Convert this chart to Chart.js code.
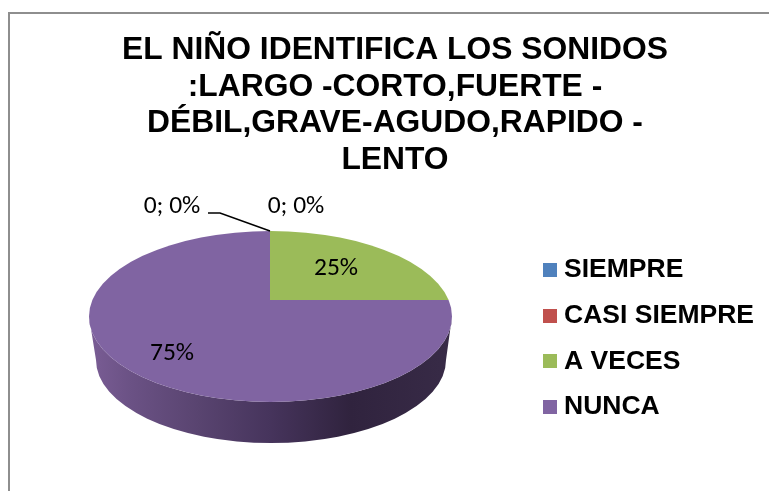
<!DOCTYPE html>
<html>
<head>
<meta charset="utf-8">
<style>
html,body{margin:0;padding:0;background:#fff;overflow:hidden;width:769px;height:491px}
#frame{position:absolute;left:8px;top:12px;width:790px;height:500px;border:2px solid #8e8e8e;box-sizing:border-box;overflow:hidden}
#frame canvas{position:absolute;left:0;top:0}
</style>
<script src="https://cdn.jsdelivr.net/npm/chart.js@4"></script>
</head>
<body>
<div id="frame"><canvas id="c" width="770" height="477"></canvas></div>
<script>
const titleLines = ["EL NIÑO IDENTIFICA LOS SONIDOS", ":LARGO -CORTO,FUERTE -", "DÉBIL,GRAVE-AGUDO,RAPIDO -", "LENTO"];
const categories = ["SIEMPRE", "CASI SIEMPRE", "A VECES", "NUNCA"];
const values = [0, 0, 25, 75];
const colors = ["#4F81BD", "#C0504D", "#9BBB59", "#8064A2"];

// tilted-disc geometry, in canvas pixels
const disc = {cx:260.5, cy:302.5, rx:181.5, ry:85.5, apexX:260, apexY:286};
const wall = {cx:261, cy:346, rx:175, ry:83};
const labelSpots = [
  {x:162, y:193}, {x:286, y:193}, {x:326, y:255}, {x:162, y:340}
];

function ellipsePath(ctx){
  ctx.beginPath();
  ctx.ellipse(disc.cx, disc.cy, disc.rx, disc.ry, 0, 0, Math.PI*2);
}
const pie3d = {
  id:"pie3d",
  afterLayout(chart){
    chart.legend.top += 91;
    chart.legend.bottom += 91;
    chart.legend.left -= 16;
    chart.legend.right -= 16;
  },
  beforeDatasetsDraw(chart){
    const ctx = chart.ctx;
    const arc = chart.getDatasetMeta(0).data[0];
    const g = ctx.createLinearGradient(disc.cx-disc.rx, 0, disc.cx+disc.rx, 0);
    g.addColorStop(0, "#7a5d95");
    g.addColorStop(0.12, "#6a5184");
    g.addColorStop(0.3, "#594470");
    g.addColorStop(0.5, "#46345c");
    g.addColorStop(0.72, "#30233e");
    g.addColorStop(1, "#382b47");
    ctx.save();
    ctx.fillStyle = g;
    ctx.beginPath();
    ctx.ellipse(disc.cx, disc.cy, disc.rx, disc.ry, 0, 0, Math.PI);
    ctx.lineTo(wall.cx-wall.rx, wall.cy);
    ctx.ellipse(wall.cx, wall.cy, wall.rx, wall.ry, 0, Math.PI, 0, true);
    ctx.closePath();
    ctx.fill();
    ctx.restore();
    ctx.save();
    ellipsePath(ctx);
    ctx.clip();
    ctx.translate(disc.apexX, disc.apexY);
    ctx.scale(200/arc.outerRadius, 125/arc.outerRadius);
    ctx.translate(-arc.x, -arc.y);
  },
  afterDatasetsDraw(chart){
    const ctx = chart.ctx;
    ctx.restore();
    const total = values.reduce((a,b)=>a+b,0);
    ctx.save();
    ctx.strokeStyle = "#000";
    ctx.lineWidth = 1.5;
    ctx.beginPath();
    ctx.moveTo(198, 199);
    ctx.lineTo(210, 199);
    ctx.lineTo(260, 217);
    ctx.stroke();
    ctx.fillStyle = "#000";
    ctx.font = "25.5px Carlito, Lato, sans-serif";
    ctx.textAlign = "center";
    ctx.textBaseline = "middle";
    values.forEach((v,i)=>{
      const pct = Math.round(v/total*100) + "%";
      ctx.fillText(v === 0 ? v + "; " + pct : pct, labelSpots[i].x, labelSpots[i].y);
    });
    ctx.restore();
  }
};
function swatch(color){
  const s = document.createElement("canvas");
  s.width = 14; s.height = 14;
  const x = s.getContext("2d");
  x.fillStyle = color;
  x.fillRect(0,0,14,14);
  return s;
}
new Chart(document.getElementById("c"), {
  type:"pie",
  data:{labels:categories, datasets:[{data:values, backgroundColor:colors, borderWidth:0, clip:false}]},
  plugins:[pie3d],
  options:{
    responsive:false,
    animation:false,
    layout:{padding:{left:0,right:0,top:0,bottom:10}},
    plugins:{
      tooltip:{enabled:false},
      title:{display:true, text:titleLines, color:"#000",
        font:{family:"'Liberation Sans'", size:31.8, weight:"bold", lineHeight:1.15},
        padding:{top:18,bottom:9}},
      legend:{display:true, position:"right",
        labels:{
          color:"#000",
          font:{family:"'Liberation Sans'", size:26.5, weight:"bold"},
          usePointStyle:true, boxWidth:1.5, padding:19.2,
          generateLabels(chart){
            return Chart.overrides.pie.plugins.legend.labels.generateLabels(chart).map((it,i)=>{
              it.pointStyle = swatch(colors[i]);
              return it;
            });
          }
        }}
    }
  }
});
</script>
</body>
</html>
